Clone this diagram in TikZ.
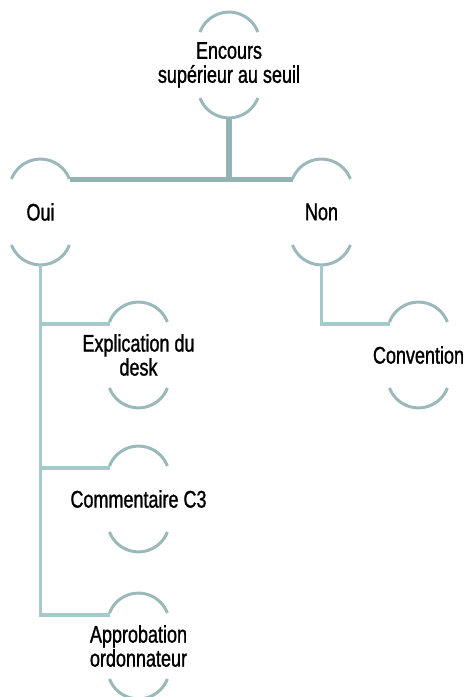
\documentclass[tikz,border=0pt]{standalone}
\usepackage{fontspec}
\setmainfont{Liberation Sans}[FakeStretch=0.75, FakeBold=1.2]
\usepackage{tikz}
\usetikzlibrary{calc}
\definecolor{capgray}{HTML}{9BB8BB}
\definecolor{trunkgray}{HTML}{93B3B5}
\definecolor{branchgray}{HTML}{A6C9CC}
\tikzset{
  leaf/.style={inner sep=0pt, align=center, font=\fontsize{24}{24}\selectfont},
  capline/.style={draw=capgray, line width=3pt},
  trunk/.style={draw=trunkgray, line width=5pt},
  branch/.style={draw=branchgray, line width=3.5pt}
}

\begin{document}
\begin{tikzpicture}[x=1pt, y=1pt]
      \useasboundingbox (0, 0) rectangle (467, 697);
      \node[leaf] (encours) at (229, 632) {Encours\\supérieur au seuil};
      \node[leaf] (oui) at (40.5, 485) {Oui};
      \node[leaf] (non) at (321.5, 485) {Non};
      \node[leaf] (explication) at (138.5, 342) {Explication du\\desk};
      \node[leaf] (commentaire) at (138.5, 198) {Commentaire C3};
      \node[leaf] (approbation) at (138.5, 51) {Approbation\\ordonnateur};
      \node[leaf] (convention) at (418.5, 342) {Convention};
      % arcs above and below each label
      \foreach \n in {encours, oui, non, explication, commentaire, approbation, convention} {
        \draw[capline] (\n.center) ++(-29, 33) arc[start angle=159, end angle=21, radius=31];
        \draw[capline] (\n.center) ++(-29, -33) arc[start angle=-159, end angle=-21, radius=31];
        \coordinate (\n-top) at ($(\n.center)+(0, 53)$);
        \coordinate (\n-bot) at ($(\n.center)+(0, -53)$);
        \coordinate (\n-tl) at ($(\n.center)+(-29, 31)$);
        \coordinate (\n-tr) at ($(\n.center)+(29, 32)$);
      }
      \draw[trunk] (oui-tr) -- (oui-tr -| non-tl);
      \draw[trunk, line width=6.5pt] (encours-bot) -- (encours-bot |- oui-tr);
      \draw[branch] (oui-bot) -- (oui-bot |- approbation-tl) -- (approbation-tl);
      \draw[branch] (oui-bot |- explication-tl) -- (explication-tl);
      \draw[branch] (oui-bot |- commentaire-tl) -- (commentaire-tl);
      \draw[branch] (non-bot) -- (non-bot |- convention-tl) -- (convention-tl);
\end{tikzpicture}
\end{document}
